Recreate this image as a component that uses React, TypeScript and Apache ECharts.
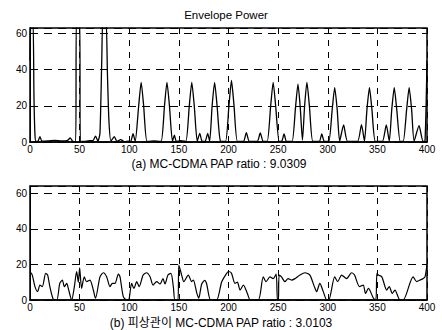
import React, { useEffect, useRef } from "react";
import * as echarts from "echarts";

// Envelope power, (a) plain MC-CDMA: [sample index, power]
const topEnvelope: [number, number][] = [
  [0, 45], [1, 68], [3, 68], [4, 25], [5, 4], [6, 0.3], [8, 0.4], [10, 3], [12, 0.5], [18, 0.6],
  [25, 0.9], [32, 0.6], [38, 0.9], [40.5, 2.3], [43, 0.4], [46, 0.2], [46.8, 68], [50, 68], [50.8, 0.2],
  [55, 0.4], [60, 0.7], [63.5, 0.8], [66, 3.3], [68.5, 0.5], [70.5, 5], [72.3, 45], [73.5, 68], [76.5, 68],
  [78, 38], [79.5, 12], [81.5, 0.5], [85, 3], [87.5, 0.4], [91.5, 1.3], [95, 0.2], [100, 0.5],
  [101.5, 0.3], [103.8, 4.6], [106, 0.4], [109.5, 20], [112, 33], [114.5, 20], [118, 0.3],
  [125, 0.6], [132, 0.3], [135.5, 20], [138, 33], [140.5, 20], [143.5, 0.4], [145.5, 3.8], [147.5, 0.3],
  [152, 0.8], [157, 0.3], [160.5, 20], [163, 33], [165.5, 20], [168.5, 0.4], [171, 4.8], [173.5, 0.4],
  [176.5, 0.4], [179, 4.8], [181, 0.4], [183.5, 20], [186, 33], [188.5, 20], [192, 0.4], [197, 0.3],
  [200.5, 20.5], [203, 34], [205.5, 20.5], [209, 0.3], [215, 0.3], [218, 5.2], [221, 0.3], [229, 0.3],
  [232, 5], [235, 0.3], [239, 0.3], [242.5, 20], [245, 33], [247.5, 20], [251, 0.3], [253.5, 0.3],
  [256, 4.5], [258.5, 0.3], [264, 0.3], [267.5, 19], [270, 32], [272.3, 19], [274.5, 1], [276.7, 20],
  [279, 33], [281.5, 20], [285, 0.3], [291.5, 0.3], [294, 4.5], [296.5, 0.3], [301, 0.3], [304.5, 18],
  [307, 30], [309.5, 18], [312, 0.5], [316, 9.4], [320, 0.3], [330, 0.3], [334, 9.6], [337, 0.5],
  [339.5, 18], [342, 30], [344.5, 18], [348, 0.3], [355, 0.3], [359, 9.4], [362, 0.5], [364.5, 18],
  [367, 30], [369.5, 18], [373, 0.3], [376, 0.3], [379.5, 18], [382, 30], [384.5, 18], [387, 0.5],
  [392, 9], [396, 0.3], [398, 0.5], [400, 45],
];

// Envelope power, (b) correlated MC-CDMA
const bottomEnvelope: [number, number][] = [
  [0, 16], [2.3, 14], [5, 7.5], [7.7, 4.7], [10, 8.4], [12.4, 7.5], [15.8, 15], [17.8, 14], [20, 7.5],
  [23.5, 0.4], [27, 0], [30, 9.3], [32.6, 11.2], [34.6, 7.5], [37, 9.3], [38.6, 6.5], [42, 0], [44.7, 7.5],
  [47, 15.9], [48.7, 10], [50, 18], [52, 6.5], [54.7, 13], [57, 10.3], [60.4, 11.2], [63.8, 5.6], [66, 1],
  [70.5, 13], [73.9, 15.3], [77.2, 13], [80.6, 7.5], [83, 9.3], [85.6, 9.3], [89, 14.6], [90.7, 13],
  [94, 1.9], [97.4, 0], [99.7, 0.3], [102.4, 9.3], [104.7, 6.5], [107.5, 10.3], [110, 7.5], [114, 14],
  [117.5, 15.3], [121, 13], [124, 8.4], [127.6, 10.3], [131, 9], [134, 12], [136, 9], [139, 14], [142, 15],
  [144.5, 7], [146, 0], [149, 0], [150, 19.6], [152.8, 14], [155, 10.3], [159.5, 14], [162.9, 10.3],
  [164.6, 11.2], [168, 4], [170, 1], [173, 9], [176, 11], [178, 9], [182, 0], [188, 0], [193, 10],
  [197, 14], [200, 16], [203, 15], [206.5, 9.3], [209, 10], [211.6, 5.6], [215, 8.4], [219, 3.7],
  [222, 0], [230, 0], [235, 13], [237.8, 10.3], [241.8, 13], [245, 12], [248, 14.5], [249.3, 0],
  [250.3, 0], [251, 14], [253.4, 13], [256.8, 10.3], [260, 12], [263.4, 11.2], [267, 12], [272, 14],
  [277, 15.3], [282, 14], [286.5, 7.5], [288.8, 4.7], [292, 9.3], [295.5, 4.7], [299, 0], [301, 0],
  [307, 13], [310, 10.3], [314, 14], [319, 12], [324, 15.3], [327, 14], [332, 7.5], [335.8, 8.4],
  [338, 3.7], [341, 6.5], [346, 1], [348.5, 0], [349.5, 15], [351, 14], [354.5, 13], [359.4, 5.6],
  [362, 7.5], [365, 3.7], [367.7, 5.6], [372.8, 0], [376, 0], [386, 13], [389.6, 10.3], [393, 11.2],
  [396, 12], [398, 13], [400, 20],
];

const xMin = 0;
const xMax = 400;
const xStep = 50;
const yStep = 20;
const topYMax = 63;
const bottomYMax = 64;

const titleText = "Envelope Power";
const captionA = "(a) MC-CDMA PAP ratio : 9.0309";
const captionB = "(b) 피상관이 MC-CDMA PAP ratio : 3.0103";

const FONT = "'Liberation Sans', Arial, 'Noto Sans CJK KR', sans-serif";

function xAxisDef(gridIndex: number) {
  return {
    gridIndex,
    type: "value",
    min: xMin,
    max: xMax,
    interval: xStep,
    axisLine: { show: true, onZero: false, lineStyle: { color: "#000", width: 1.5 } },
    axisTick: { show: true, inside: true, length: 3, lineStyle: { color: "#000" } },
    axisLabel: { color: "#000", fontSize: 10, margin: 2, fontFamily: FONT },
    splitLine: { show: true, lineStyle: { type: [6, 6], color: "#000", width: 1 } },
  };
}

function yAxisDef(gridIndex: number, max: number) {
  return {
    gridIndex,
    type: "value",
    min: 0,
    max,
    interval: yStep,
    axisLine: { show: true, lineStyle: { color: "#000", width: 1 } },
    axisTick: { show: true, inside: true, length: 3, lineStyle: { color: "#000" } },
    axisLabel: {
      color: "#000",
      fontSize: 10,
      margin: 3,
      fontFamily: FONT,
      formatter: (v: number) => (v % yStep === 0 ? String(v) : ""),
    },
    splitLine: { show: true, lineStyle: { type: [8, 6], color: "#000", width: 1 } },
  };
}

export default function App() {
  const ref = useRef<HTMLDivElement>(null);

  useEffect(() => {
    if (!ref.current) return;
    const chart = echarts.init(ref.current, undefined, { renderer: "svg" });
    chart.setOption({
      animation: false,
      backgroundColor: "#fff",
      grid: [
        { left: 30, right: 15, top: 28, height: 114, show: true, borderColor: "#000", borderWidth: 1.5 },
        { left: 30, right: 15, top: 186, height: 114, show: true, borderColor: "#000", borderWidth: 1.5 },
      ],
      xAxis: [xAxisDef(0), xAxisDef(1)],
      yAxis: [yAxisDef(0, topYMax), yAxisDef(1, bottomYMax)],
      series: [
        {
          type: "line",
          xAxisIndex: 0,
          yAxisIndex: 0,
          data: topEnvelope,
          showSymbol: false,
          smooth: 0.2,
          clip: true,
          lineStyle: { color: "#000", width: 1.3 },
        },
        {
          type: "line",
          xAxisIndex: 1,
          yAxisIndex: 1,
          data: bottomEnvelope,
          showSymbol: false,
          smooth: 0.25,
          clip: true,
          lineStyle: { color: "#000", width: 1.2 },
        },
      ],
      graphic: [
        {
          type: "text",
          x: 226,
          y: 15,
          style: { text: titleText, fill: "#000", fontSize: 11.5, fontFamily: FONT, align: "center", verticalAlign: "middle" },
        },
        {
          type: "text",
          x: 219,
          y: 164,
          style: { text: captionA, fill: "#000", fontSize: 12, fontFamily: FONT, align: "center", verticalAlign: "middle" },
        },
        {
          type: "text",
          x: 221,
          y: 323,
          style: { text: captionB, fill: "#000", fontSize: 12, fontFamily: FONT, align: "center", verticalAlign: "middle" },
        },
      ],
    });
    return () => chart.dispose();
  }, []);

  return (
    <div
      ref={ref}
      style={{ position: "fixed", left: 0, top: 0, width: 442, height: 330, background: "#fff" }}
    />
  );
}
